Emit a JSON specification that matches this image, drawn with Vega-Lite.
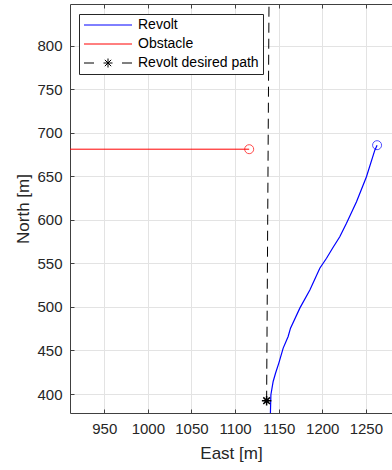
{
  "$schema": "https://vega.github.io/schema/vega-lite/v6.json",
  "width": 322,
  "height": 409,
  "autosize": {"type": "none"},
  "padding": {"left": 70, "top": 4, "right": 0, "bottom": 57},
  "background": "white",
  "datasets": {
    "revolt": [
      {"i": 0, "series": "Revolt", "east": 1140.5, "north": 376.0},
      {"i": 1, "series": "Revolt", "east": 1141.1, "north": 399.2},
      {"i": 2, "series": "Revolt", "east": 1143.7, "north": 414.4},
      {"i": 3, "series": "Revolt", "east": 1146.5, "north": 424.1},
      {"i": 4, "series": "Revolt", "east": 1150.2, "north": 435.5},
      {"i": 5, "series": "Revolt", "east": 1155.2, "north": 452.7},
      {"i": 6, "series": "Revolt", "east": 1160.9, "north": 466.0},
      {"i": 7, "series": "Revolt", "east": 1163.6, "north": 475.6},
      {"i": 8, "series": "Revolt", "east": 1174.3, "north": 498.6},
      {"i": 9, "series": "Revolt", "east": 1185.8, "north": 519.5},
      {"i": 10, "series": "Revolt", "east": 1197.2, "north": 544.4},
      {"i": 11, "series": "Revolt", "east": 1204.9, "north": 555.9},
      {"i": 12, "series": "Revolt", "east": 1211.8, "north": 567.3},
      {"i": 13, "series": "Revolt", "east": 1220.1, "north": 580.6},
      {"i": 14, "series": "Revolt", "east": 1227.8, "north": 596.0},
      {"i": 15, "series": "Revolt", "east": 1239.3, "north": 620.7},
      {"i": 16, "series": "Revolt", "east": 1250.7, "north": 649.4},
      {"i": 17, "series": "Revolt", "east": 1260.3, "north": 680.0},
      {"i": 18, "series": "Revolt", "east": 1262.9, "north": 685.7}
    ],
    "obstacle": [
      {"i": 0, "series": "Obstacle", "east": 900.0, "north": 681.1},
      {"i": 1, "series": "Obstacle", "east": 1116.2, "north": 681.1}
    ],
    "desired": [
      {"i": 0, "series": "Revolt desired path", "east": 1136.2, "north": 392.3},
      {"i": 1, "series": "Revolt desired path", "east": 1139.0, "north": 860.0}
    ],
    "markers": [
      {"series": "Revolt", "kind": "end", "east": 1262.9, "north": 685.7},
      {"series": "Obstacle", "kind": "end", "east": 1116.2, "north": 681.1},
      {"series": "Revolt desired path", "kind": "start", "east": 1136.2, "north": 392.3}
    ]
  },
  "resolve": {"axis": {"x": "independent"}, "scale": {"x": "shared", "y": "shared"}},
  "layer": [
    {
      "data": {"name": "desired"},
      "mark": {"type": "line", "color": "#000000", "strokeWidth": 1, "strokeDash": [10, 6], "clip": true},
      "encoding": {
        "x": {
          "field": "east", "type": "quantitative",
          "scale": {"domain": [910.7, 1280], "nice": false, "zero": false},
          "axis": {
            "orient": "top", "labels": false, "title": null, "grid": false,
            "values": [950, 1000, 1050, 1100, 1150, 1200, 1250],
            "tickSize": -4
          }
        },
        "y": {
          "field": "north", "type": "quantitative",
          "scale": {"domain": [378.2, 847.8], "nice": false, "zero": false},
          "axis": {
            "title": "North [m]",
            "values": [400, 450, 500, 550, 600, 650, 700, 750, 800],
            "tickSize": -4, "labelPadding": 12, "grid": true, "format": "d"
          }
        },
        "order": {"field": "i"}
      }
    },
    {
      "data": {"name": "obstacle"},
      "mark": {"type": "line", "color": "#ff0000", "strokeWidth": 1, "clip": true},
      "encoding": {
        "x": {"field": "east", "type": "quantitative", "axis": null},
        "y": {"field": "north", "type": "quantitative"},
        "order": {"field": "i"}
      }
    },
    {
      "data": {"name": "revolt"},
      "mark": {"type": "line", "strokeWidth": 1.2, "clip": true},
      "encoding": {
        "x": {
          "field": "east", "type": "quantitative", "title": "East [m]",
          "axis": {
            "orient": "bottom", "grid": true, "format": "d",
            "values": [950, 1000, 1050, 1100, 1150, 1200, 1250],
            "tickSize": -4, "labelPadding": 12, "titlePadding": 9
          }
        },
        "y": {"field": "north", "type": "quantitative"},
        "order": {"field": "i"},
        "color": {
          "field": "series", "type": "nominal",
          "scale": {
            "domain": ["Revolt", "Obstacle", "Revolt desired path"],
            "range": ["#0000ff", "#ff0000", "#000000"]
          },
          "legend": {
            "title": null,
            "orient": "none",
            "legendX": 9,
            "legendY": 10,
            "fillColor": "#ffffff",
            "strokeColor": "#262626",
            "padding": 4,
            "symbolSize": 144,
            "symbolType": "M-1,0H7",
            "symbolStrokeWidth": 1,
            "labelOffset": 41,
            "labelFontSize": 14,
            "labelFont": "Liberation Sans",
            "labelColor": "#000000",
            "rowPadding": 5,
            "encode": {
              "symbols": {
                "update": {
                  "shape": {"signal": "datum.value === 'Revolt desired path' ? 'M-1,0H0.667M5.333,0H7M2.25,0H3.75M3,-0.75V0.75M2.47,-0.53L3.53,0.53M2.47,0.53L3.53,-0.53' : 'M-1,0H7'"},
                  "strokeDash": {"value": []}
                }
              }
            }
          }
        }
      }
    },
    {
      "data": {"name": "markers"},
      "transform": [{"filter": "datum.series === 'Revolt'"}],
      "mark": {"type": "point", "shape": "circle", "filled": false, "color": "#0000ff", "size": 81, "strokeWidth": 1},
      "encoding": {
        "x": {"field": "east", "type": "quantitative", "axis": null},
        "y": {"field": "north", "type": "quantitative"}
      }
    },
    {
      "data": {"name": "markers"},
      "transform": [{"filter": "datum.series === 'Obstacle'"}],
      "mark": {"type": "point", "shape": "circle", "filled": false, "color": "#ff0000", "size": 81, "strokeWidth": 1},
      "encoding": {
        "x": {"field": "east", "type": "quantitative", "axis": null},
        "y": {"field": "north", "type": "quantitative"}
      }
    },
    {
      "data": {"name": "markers"},
      "transform": [{"filter": "datum.series === 'Revolt desired path'"}],
      "mark": {
        "type": "point", "filled": false, "color": "#000000", "size": 90, "strokeWidth": 1.5, "opacity": 1,
        "shape": "M-1,0H1M0,-1V1M-0.7,-0.7L0.7,0.7M-0.7,0.7L0.7,-0.7"
      },
      "encoding": {
        "x": {"field": "east", "type": "quantitative", "axis": null},
        "y": {"field": "north", "type": "quantitative"}
      }
    }
  ],
  "config": {
    "view": {"stroke": null},
    "font": "Liberation Sans",
    "axis": {
      "domainColor": "#404040",
      "domainWidth": 1,
      "tickColor": "#404040",
      "tickWidth": 1,
      "gridColor": "#e3e3e3",
      "gridWidth": 1,
      "labelFont": "Liberation Sans",
      "labelFontSize": 15,
      "labelColor": "#262626",
      "titleFont": "Liberation Sans",
      "titleFontSize": 17,
      "titleFontWeight": "normal",
      "titleColor": "#262626"
    }
  }
}
